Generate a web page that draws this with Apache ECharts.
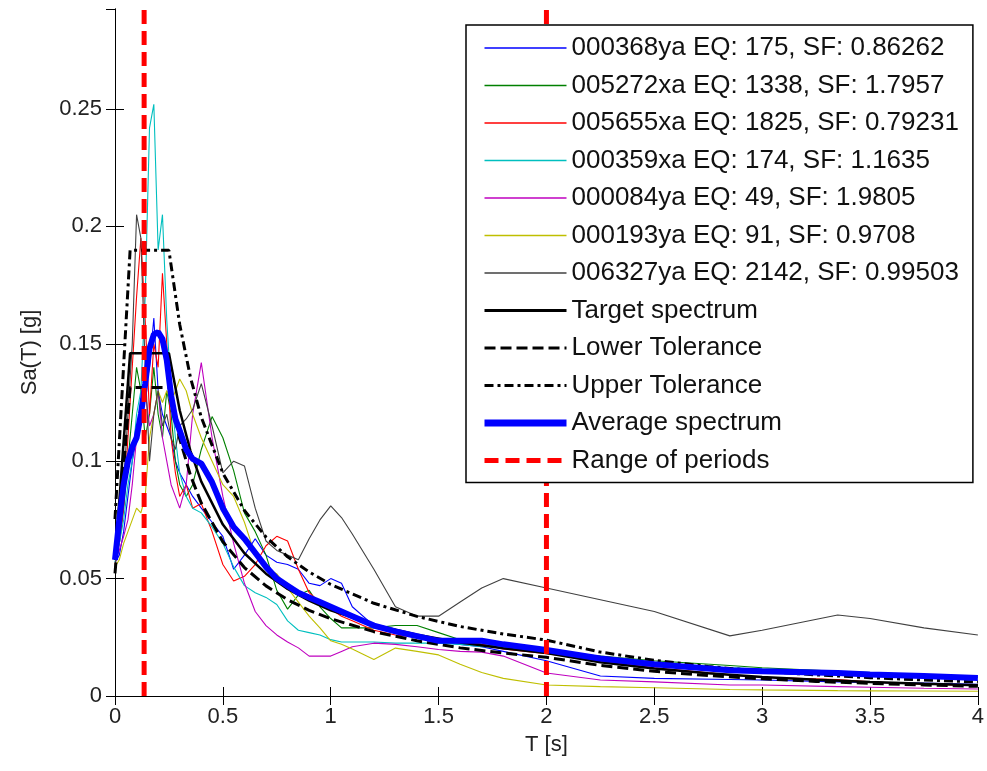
<!DOCTYPE html>
<html>
<head>
<meta charset="utf-8">
<script src="https://cdn.jsdelivr.net/npm/echarts@6/dist/echarts.min.js"></script>
<style>
html,body{margin:0;padding:0;background:#fff;}
#chart{width:987px;height:771px;}
</style>
</head>
<body>
<div id="chart"></div>
<script>
// ---------- data ----------
const periods = [0, 0.02, 0.04, 0.06, 0.08, 0.1, 0.12, 0.14, 0.16, 0.18, 0.2, 0.22, 0.24, 0.26, 0.28, 0.3, 0.33, 0.36, 0.4, 0.45, 0.5, 0.55, 0.6, 0.65, 0.7, 0.75, 0.8, 0.85, 0.9, 0.95, 1.0, 1.05, 1.1, 1.2, 1.3, 1.4, 1.5, 1.6, 1.7, 1.8, 2.0, 2.25, 2.5, 2.85, 3.0, 3.35, 3.5, 3.75, 4.0];

const rec000368ya = [0.057, 0.06, 0.07, 0.085, 0.1, 0.11, 0.12, 0.13, 0.14, 0.161, 0.13, 0.12, 0.115, 0.11, 0.1, 0.095, 0.09, 0.085, 0.08, 0.074, 0.068, 0.054, 0.06, 0.067, 0.06, 0.057, 0.056, 0.054, 0.048, 0.047, 0.05, 0.048, 0.038, 0.03, 0.027, 0.025, 0.023, 0.022, 0.021, 0.019, 0.015, 0.0085, 0.0075, 0.007, 0.0068, 0.006, 0.0058, 0.0055, 0.005];
const rec005272xa = [0.06, 0.065, 0.08, 0.1, 0.12, 0.14, 0.13, 0.11, 0.12, 0.14, 0.12, 0.11, 0.13, 0.12, 0.1, 0.09, 0.085, 0.09, 0.105, 0.119, 0.11, 0.096, 0.078, 0.07, 0.06, 0.045, 0.037, 0.043, 0.045, 0.038, 0.033, 0.029, 0.029, 0.029, 0.03, 0.03, 0.027, 0.024, 0.022, 0.021, 0.019, 0.017, 0.015, 0.013, 0.012, 0.0105, 0.01, 0.009, 0.008];
const rec005655xa = [0.056, 0.065, 0.08, 0.11, 0.14, 0.17, 0.195, 0.16, 0.12, 0.15, 0.14, 0.18, 0.15, 0.11, 0.095, 0.085, 0.09, 0.08, 0.082, 0.07, 0.056, 0.049, 0.051, 0.056, 0.064, 0.068, 0.066, 0.054, 0.044, 0.04, 0.037, 0.034, 0.032, 0.028, 0.026, 0.025, 0.024, 0.023, 0.022, 0.02, 0.018, 0.015, 0.012, 0.009, 0.008, 0.007, 0.006, 0.005, 0.0045];
const rec000359xa = [0.057, 0.065, 0.075, 0.09, 0.1, 0.12, 0.13, 0.17, 0.242, 0.252, 0.19, 0.205, 0.16, 0.13, 0.11, 0.095, 0.085, 0.08, 0.078, 0.072, 0.065, 0.055, 0.047, 0.044, 0.042, 0.039, 0.032, 0.028, 0.027, 0.026, 0.024, 0.023, 0.023, 0.023, 0.0225, 0.0225, 0.0225, 0.022, 0.021, 0.021, 0.019, 0.016, 0.014, 0.012, 0.0115, 0.0105, 0.01, 0.009, 0.0085];
const rec000084ya = [0.058, 0.062, 0.068, 0.075, 0.09, 0.11, 0.12, 0.13, 0.115, 0.12, 0.13, 0.11, 0.1, 0.09, 0.085, 0.08, 0.09, 0.12, 0.142, 0.11, 0.085, 0.065, 0.048, 0.036, 0.03, 0.026, 0.023, 0.0205, 0.017, 0.017, 0.017, 0.019, 0.021, 0.0225, 0.022, 0.021, 0.0198, 0.019, 0.0187, 0.017, 0.0098, 0.0068, 0.006, 0.0047, 0.0047, 0.004, 0.0037, 0.0033, 0.003];
const rec000193ya = [0.055, 0.058, 0.065, 0.07, 0.075, 0.08, 0.078, 0.085, 0.11, 0.12, 0.13, 0.125, 0.13, 0.125, 0.13, 0.135, 0.13, 0.12, 0.11, 0.1, 0.09, 0.085, 0.074, 0.06, 0.055, 0.052, 0.046, 0.04, 0.034, 0.029, 0.0235, 0.022, 0.02, 0.0155, 0.0204, 0.019, 0.0175, 0.0135, 0.01, 0.0075, 0.0047, 0.004, 0.0035, 0.0028, 0.0026, 0.0023, 0.0022, 0.0021, 0.002];
const rec006327ya = [0.055, 0.07, 0.09, 0.12, 0.15, 0.205, 0.195, 0.14, 0.1, 0.12, 0.13, 0.115, 0.12, 0.11, 0.105, 0.115, 0.118, 0.122, 0.133, 0.115, 0.095, 0.1, 0.098, 0.08, 0.066, 0.062, 0.06, 0.058, 0.067, 0.075, 0.081, 0.076, 0.069, 0.054, 0.038, 0.034, 0.034, 0.04, 0.046, 0.05, 0.046, 0.041, 0.036, 0.0256, 0.028, 0.0345, 0.033, 0.029, 0.026];
const averageSpectrum = [0.058, 0.075, 0.09, 0.1, 0.106, 0.11, 0.12, 0.133, 0.148, 0.154, 0.155, 0.152, 0.143, 0.128, 0.118, 0.113, 0.105, 0.101, 0.099, 0.091, 0.08, 0.072, 0.067, 0.061, 0.055, 0.05, 0.047, 0.044, 0.042, 0.04, 0.038, 0.036, 0.034, 0.03, 0.0275, 0.0255, 0.0235, 0.0235, 0.0235, 0.022, 0.0196, 0.016, 0.0135, 0.011, 0.0105, 0.0098, 0.0092, 0.0085, 0.0077];

const targetPeriods = [0, 0.035, 0.07, 0.1, 0.15, 0.2, 0.25, 0.3, 0.35, 0.4, 0.5, 0.6, 0.7, 0.8, 0.9, 1.0, 1.2, 1.4, 1.6, 1.8, 2.0, 2.25, 2.5, 2.75, 3.0, 3.25, 3.5, 3.75, 4.0];
const targetSpectrum = [0.058, 0.102, 0.146, 0.146, 0.146, 0.146, 0.146, 0.1217, 0.1043, 0.0913, 0.073, 0.0608, 0.0521, 0.0456, 0.0406, 0.0365, 0.0304, 0.0261, 0.0228, 0.0203, 0.0183, 0.0144, 0.0117, 0.0097, 0.0081, 0.0069, 0.006, 0.0052, 0.0046];
const lowerTolerance = [0.0522, 0.0918, 0.1314, 0.1314, 0.1314, 0.1314, 0.1314, 0.1095, 0.0939, 0.0822, 0.0657, 0.0547, 0.0469, 0.041, 0.0365, 0.0329, 0.0274, 0.0235, 0.0205, 0.0183, 0.0165, 0.013, 0.0105, 0.0087, 0.0073, 0.0062, 0.0054, 0.0047, 0.0041];
const upperTolerance = [0.0754, 0.1326, 0.1898, 0.1898, 0.1898, 0.1898, 0.1898, 0.1582, 0.1356, 0.1187, 0.0949, 0.079, 0.0677, 0.0593, 0.0528, 0.0475, 0.0395, 0.0339, 0.0296, 0.0264, 0.0238, 0.0187, 0.0152, 0.0126, 0.0105, 0.009, 0.0078, 0.0068, 0.006];

const rangeOfPeriods = [0.135, 2.0];

const recordNames = [
  '000368ya EQ: 175, SF: 0.86262',
  '005272xa EQ: 1338, SF: 1.7957',
  '005655xa EQ: 1825, SF: 0.79231',
  '000359xa EQ: 174, SF: 1.1635',
  '000084ya EQ: 49, SF: 1.9805',
  '000193ya EQ: 91, SF: 0.9708',
  '006327ya EQ: 2142, SF: 0.99503'
];
const recordValues = [rec000368ya, rec005272xa, rec005655xa, rec000359xa, rec000084ya, rec000193ya, rec006327ya];
const recordColors = ['#0000ff', '#008000', '#ff0000', '#00bfbf', '#bf00bf', '#bfbf00', '#404040'];

const xTicks = {min: 0, max: 4, interval: 0.5};
const yTicks = {min: 0, max: 0.2926, interval: 0.05};

// ---------- chart ----------
const pairs = (xs, ys) => xs.map((x, i) => [x, ys[i]]);
const FONT = '"Liberation Sans", Arial, sans-serif';

const series = [];
recordNames.forEach((name, i) => {
  series.push({
    name: name, type: 'line', data: pairs(periods, recordValues[i]),
    symbol: 'none', showSymbol: false, color: recordColors[i],
    lineStyle: {width: 1.1, color: recordColors[i]}, z: 2
  });
});
series.push({name: 'Target spectrum', type: 'line', data: pairs(targetPeriods, targetSpectrum),
  symbol: 'none', showSymbol: false, color: '#000', lineStyle: {width: 2.5, color: '#000'}, z: 3});
series.push({name: 'Lower Tolerance', type: 'line', data: pairs(targetPeriods, lowerTolerance),
  symbol: 'none', showSymbol: false, color: '#000', lineStyle: {width: 3, color: '#000', type: [11, 5]}, z: 3});
series.push({name: 'Upper Tolerance', type: 'line', data: pairs(targetPeriods, upperTolerance),
  symbol: 'none', showSymbol: false, color: '#000', lineStyle: {width: 3, color: '#000', type: [9, 4, 3, 4]}, z: 3});
series.push({name: 'Average spectrum', type: 'line', data: pairs(periods, averageSpectrum),
  symbol: 'none', showSymbol: false, color: '#0000ff', lineStyle: {width: 6, color: '#0000ff'}, z: 4});
rangeOfPeriods.forEach((t) => {
  series.push({name: 'Range of periods', type: 'line',
    data: [[t, yTicks.min], [t, yTicks.max]],
    symbol: 'none', showSymbol: false, color: '#ff0000', lineStyle: {width: 5, color: '#ff0000', type: [14, 7]}, z: 5});
});

const legendNames = recordNames.concat(['Target spectrum', 'Lower Tolerance', 'Upper Tolerance', 'Average spectrum', 'Range of periods']);
const legendWidths = [1.5, 1.5, 1.5, 1.5, 1.5, 1.5, 1.5, 3, 3, 3, 7, 5];
const legendColors = recordColors.concat(['#000', '#000', '#000', '#0000ff', '#ff0000']);

const axisCommon = {
  axisLine: {show: true, lineStyle: {color: '#000', width: 1}},
  axisTick: {show: true, inside: true, length: 9, lineStyle: {color: '#000'}},
  splitLine: {show: false}
};

const option = {
  animation: false,
  backgroundColor: '#fff',
  grid: {left: 115, right: 6, top: 9, bottom: 75, containLabel: false},
  xAxis: [
    Object.assign({type: 'value', position: 'bottom', min: xTicks.min, max: xTicks.max, interval: xTicks.interval,
      name: 'T [s]', nameLocation: 'middle', nameGap: 38,
      nameTextStyle: {fontFamily: FONT, fontSize: 22, color: '#222'},
      axisLabel: {fontFamily: FONT, fontSize: 22, color: '#222', margin: 10}}, axisCommon),
    Object.assign({type: 'value', position: 'top', min: xTicks.min, max: xTicks.max, interval: xTicks.interval,
      axisLabel: {show: false}}, axisCommon)
  ],
  yAxis: [
    Object.assign({type: 'value', position: 'left', min: yTicks.min, max: yTicks.max, interval: yTicks.interval,
      name: 'Sa(T) [g]', nameLocation: 'middle', nameGap: 74, nameRotate: 90,
      nameTextStyle: {fontFamily: FONT, fontSize: 22, color: '#222'},
      axisLabel: {fontFamily: FONT, fontSize: 22, color: '#222', margin: 13, showMaxLabel: false}}, axisCommon),
    Object.assign({type: 'value', position: 'right', min: yTicks.min, max: yTicks.max, interval: yTicks.interval,
      axisLabel: {show: false}}, axisCommon)
  ],
  legend: {
    orient: 'vertical', left: 466, top: 25,
    padding: [10, 14, 9, 15],
    itemWidth: 82, itemHeight: 14, itemGap: 11.5,
    backgroundColor: '#fff', borderColor: '#000', borderWidth: 1.5,
    textStyle: {fontFamily: FONT, fontSize: 26, color: '#111'},
    itemStyle: {opacity: 0},
    data: legendNames.map((n, i) => ({name: n, itemStyle: {opacity: 0},
      lineStyle: {width: legendWidths[i], color: legendColors[i]}})),
    selectedMode: false, z: 10
  },
  series: series
};

const chart = echarts.init(document.getElementById('chart'), null, {renderer: 'canvas'});
chart.setOption(option);
</script>
</body>
</html>
